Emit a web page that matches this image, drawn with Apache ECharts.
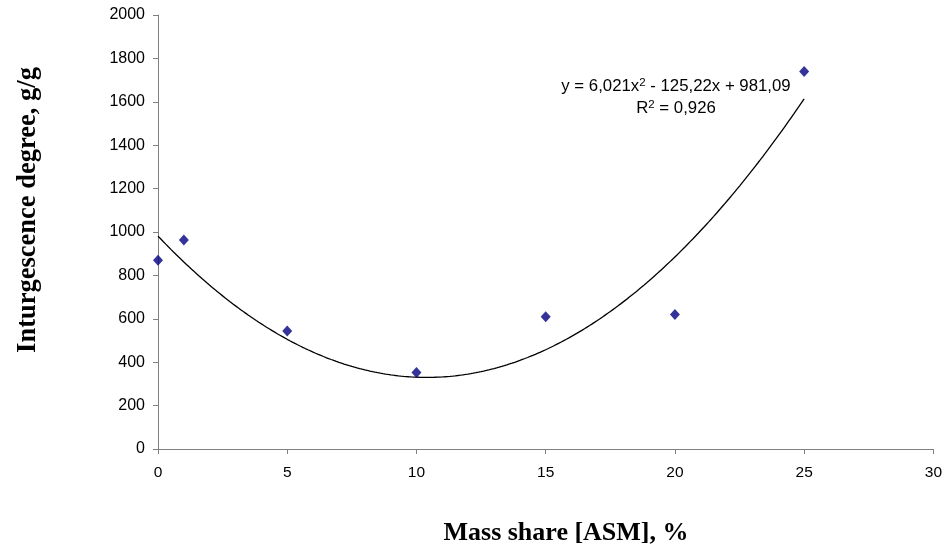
<!DOCTYPE html>
<html>
<head>
<meta charset="utf-8">
<script src="https://cdn.jsdelivr.net/npm/echarts@6/dist/echarts.min.js"></script>
<style>
  html, body { margin: 0; padding: 0; background: #fff; }
  #chart { width: 945px; height: 550px; }
</style>
</head>
<body>
<div id="chart"></div>
<script>
// Measured swelling vs. ASM mass share
const massShare = [0, 1, 5, 10, 15, 20, 25];
const swelling = [870, 963, 544, 352, 609, 620, 1740];

// Quadratic trend coefficients as printed on the chart: a*x^2 + b*x + c
const trendCoef = [6.021, -125.22, 981.09];
const trendRange = [0, 25];
const rSquared = '0,926';

const xTicks = { min: 0, max: 30, interval: 5 };
const yTicks = { min: 0, max: 2000, interval: 200 };

// Trend curve sampled along its x range
const trendPts = [];
for (let i = 0; i <= 250; i++) {
  const x = trendRange[0] + (trendRange[1] - trendRange[0]) * i / 250;
  trendPts.push([x, trendCoef[0] * x * x + trendCoef[1] * x + trendCoef[2]]);
}

const chart = echarts.init(document.getElementById('chart'), null, { renderer: 'canvas' });

const sans = 'Liberation Sans, Arial, sans-serif';
const serif = 'Liberation Serif, Times New Roman, serif';
const axisLineStyle = { color: '#808080', width: 1 };
const eqRich = {
  t: { fontFamily: sans, fontSize: 16.8, fill: '#000', color: '#000' },
  s: { fontFamily: sans, fontSize: 11.5, fill: '#000', color: '#000', verticalAlign: 'top', padding: [0, 0, 7, 0] }
};

chart.setOption({
  animation: false,
  backgroundColor: '#ffffff',
  grid: { left: 158, right: 11, top: 15, bottom: 101, containLabel: false },
  xAxis: {
    type: 'value',
    min: xTicks.min, max: xTicks.max, interval: xTicks.interval,
    axisLine: { show: true, lineStyle: axisLineStyle },
    axisTick: { show: true, inside: false, length: 5, lineStyle: axisLineStyle },
    splitLine: { show: false },
    axisLabel: { color: '#000', fontFamily: sans, fontSize: 15.5, margin: 16 }
  },
  yAxis: {
    type: 'value',
    min: yTicks.min, max: yTicks.max, interval: yTicks.interval,
    axisLine: { show: true, lineStyle: axisLineStyle },
    axisTick: { show: true, inside: false, length: 5, lineStyle: axisLineStyle },
    splitLine: { show: false },
    axisLabel: { color: '#000', fontFamily: sans, fontSize: 16, margin: 13, formatter: v => String(v) }
  },
  series: [
    {
      type: 'line',
      data: trendPts,
      showSymbol: false,
      symbol: 'none',
      smooth: false,
      lineStyle: { color: '#000', width: 1.3 },
      z: 2
    },
    {
      type: 'scatter',
      data: massShare.map((x, i) => [x, swelling[i]]),
      symbol: 'diamond',
      symbolSize: [10, 11],
      itemStyle: { color: '#000080' },
      z: 3
    }
  ],
  graphic: [
    {
      type: 'text',
      x: 676, y: 86,
      style: {
        text: '{t|y = 6,021x}{s|2}{t| - 125,22x + 981,09}',
        align: 'center', verticalAlign: 'middle',
        rich: eqRich
      }
    },
    {
      type: 'text',
      x: 676, y: 108,
      style: {
        text: '{t|R}{s|2}{t| = ' + rSquared + '}',
        align: 'center', verticalAlign: 'middle',
        rich: eqRich
      }
    },
    {
      type: 'text',
      x: 566, y: 533,
      style: {
        text: 'Mass share [ASM], %',
        align: 'center', verticalAlign: 'middle',
        fontFamily: serif, fontWeight: 'bold', fontSize: 26, fill: '#000'
      }
    },
    {
      type: 'text',
      x: 28, y: 210, rotation: Math.PI / 2,
      style: {
        text: 'Inturgescence degree, g/g',
        align: 'center', verticalAlign: 'middle',
        fontFamily: serif, fontWeight: 'bold', fontSize: 26.5, fill: '#000'
      }
    }
  ]
});
</script>
</body>
</html>
